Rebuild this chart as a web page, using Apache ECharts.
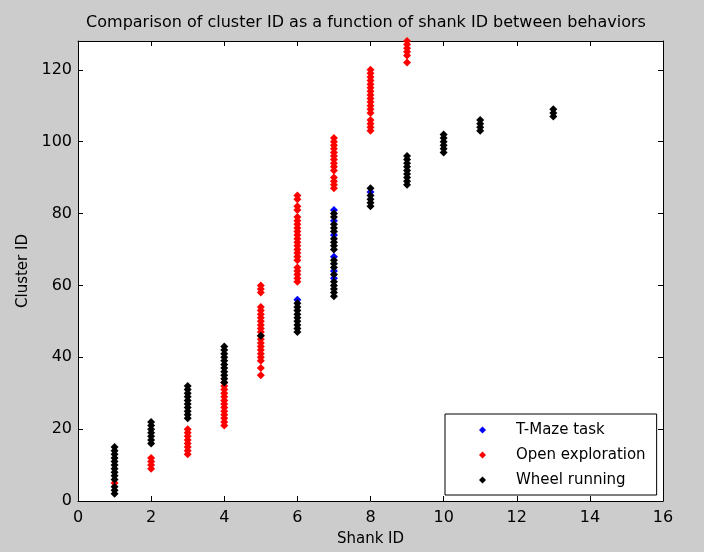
<!DOCTYPE html>
<html>
<head>
<meta charset="utf-8">
<script src="https://cdn.jsdelivr.net/npm/echarts@6/dist/echarts.min.js"></script>
<style>
  html, body { margin: 0; padding: 0; background: #cccccc; }
  #chart { width: 704px; height: 552px; }
</style>
</head>
<body>
<div id="chart"></div>
<script>
// Shank IDs on the x axis (1..13)
const shankIds = [1, 2, 3, 4, 5, 6, 7, 8, 9, 10, 11, 12, 13];

// Cluster IDs recorded on each shank, one list per shank, per behavior
const tMazeTask = [
  [], [], [], [], [],
  [56],
  [62, 64, 68, 74, 78, 81],
  [86],
  [], [], [], [], []
];

const openExploration = [
  [5],
  [9, 10, 11, 12],
  [13, 14, 15, 16, 17, 18, 19, 20],
  [21, 22, 23, 24, 25, 26, 27, 28, 29, 30, 31, 32, 33],
  [35, 37, 39, 40, 41, 42, 43, 44, 45, 46, 47, 48, 49, 50, 51, 52, 53, 54, 58, 59, 60],
  [61, 62, 63, 64, 65, 67, 68, 69, 70, 71, 72, 73, 74, 75, 76, 77, 78, 79, 81, 82, 84, 85],
  [87, 88, 89, 90, 92, 93, 94, 95, 96, 97, 98, 99, 100, 101],
  [103, 104, 105, 106, 108, 109, 110, 111, 112, 113, 114, 115, 116, 117, 118, 119, 120],
  [122, 124, 125, 126, 127, 128],
  [], [], [], []
];

const wheelRunning = [
  [2, 3, 4, 6, 7, 8, 9, 10, 11, 12, 13, 14, 15],
  [16, 17, 18, 19, 20, 21, 22],
  [23, 24, 25, 26, 27, 28, 29, 30, 31, 32],
  [33, 34, 35, 36, 37, 38, 39, 40, 41, 42, 43],
  [46],
  [47, 48, 49, 50, 51, 52, 53, 54, 55],
  [57, 58, 59, 60, 61, 63, 65, 66, 67, 70, 71, 72, 73, 75, 76, 77, 79, 80],
  [82, 83, 84, 85, 87],
  [88, 89, 90, 91, 92, 93, 94, 95, 96],
  [97, 98, 99, 100, 101, 102],
  [103, 104, 105, 106],
  [],
  [107, 108, 109]
];

const seriesNames = ['T-Maze task', 'Open exploration', 'Wheel running'];
const seriesColors = ['#0000ff', '#ff0000', '#000000'];

const xTicks = [0, 2, 4, 6, 8, 10, 12, 14, 16];
const yTicks = [0, 20, 40, 60, 80, 100, 120];

// Flatten per-shank cluster lists into [shank, cluster] pairs
function toPoints(perShank) {
  const pts = [];
  perShank.forEach((clusters, i) => {
    clusters.forEach(c => pts.push([shankIds[i], c]));
  });
  return pts;
}

const FONT = 'DejaVu Sans';
const chart = echarts.init(document.getElementById('chart'), null, { renderer: 'canvas' });

const frameAxis = {
  axisLine: { show: true, onZero: false, lineStyle: { color: '#000', width: 1 } },
  axisTick: { show: true, inside: true, length: 5, lineStyle: { color: '#000' } },
  splitLine: { show: false }
};

chart.setOption({
  backgroundColor: '#cccccc',
  animation: false,
  title: {
    text: 'Comparison of cluster ID as a function of shank ID between behaviors',
    left: 361,
    textAlign: 'center',
    top: 10,
    textStyle: { fontFamily: FONT, fontSize: 16, fontWeight: 'normal', color: '#000' }
  },
  grid: {
    left: 78, top: 41, right: 41, bottom: 50,
    show: true, backgroundColor: '#ffffff', borderWidth: 0
  },
  legend: {
    left: 445, top: 414,
    orient: 'vertical',
    data: seriesNames,
    icon: 'diamond',
    itemWidth: 7, itemHeight: 7,
    itemGap: 9,
    padding: [8, 11, 7, 34],
    backgroundColor: '#ffffff',
    borderColor: '#000',
    borderWidth: 1,
    borderRadius: 0,
    selectedMode: false,
    textStyle: { fontFamily: FONT, fontSize: 15, color: '#000', lineHeight: 16, padding: [0, 0, 0, 25] }
  },
  xAxis: [
    Object.assign({
      type: 'value', min: xTicks[0], max: xTicks[xTicks.length - 1], interval: 2,
      position: 'bottom',
      name: 'Shank ID', nameLocation: 'middle', nameGap: 31,
      nameTextStyle: { fontFamily: FONT, fontSize: 15, color: '#000' },
      axisLabel: { show: true, margin: 9, fontFamily: FONT, fontSize: 16, color: '#000' }
    }, frameAxis),
    Object.assign({
      type: 'value', min: xTicks[0], max: xTicks[xTicks.length - 1], interval: 2,
      position: 'top',
      axisLabel: { show: false }
    }, frameAxis)
  ],
  yAxis: [
    Object.assign({
      type: 'value', min: 0, max: 128, interval: 20,
      position: 'left',
      name: 'Cluster ID', nameLocation: 'middle', nameGap: 43,
      nameTextStyle: { fontFamily: FONT, fontSize: 15, color: '#000' },
      axisLabel: {
        show: true, margin: 6, fontFamily: FONT, fontSize: 16, color: '#000',
        formatter: v => (yTicks.indexOf(v) >= 0 ? String(v) : '')
      }
    }, frameAxis),
    Object.assign({
      type: 'value', min: 0, max: 128, interval: 20,
      position: 'right',
      axisLabel: { show: false }
    }, frameAxis)
  ],
  series: [tMazeTask, openExploration, wheelRunning].map((d, i) => ({
    name: seriesNames[i],
    type: 'scatter',
    xAxisIndex: 0,
    yAxisIndex: 0,
    symbol: 'diamond',
    symbolSize: 8,
    itemStyle: { color: seriesColors[i], opacity: 1 },
    data: toPoints(d),
    z: 2 + i
  }))
});
</script>
</body>
</html>
